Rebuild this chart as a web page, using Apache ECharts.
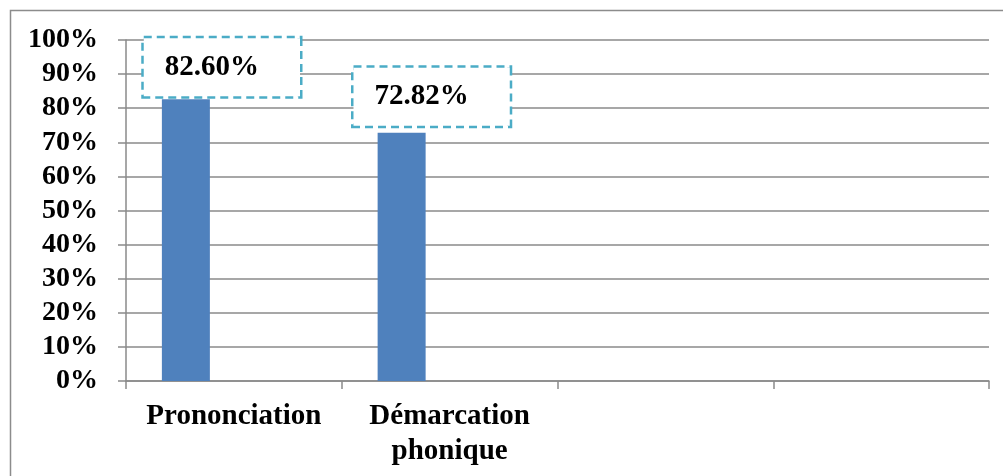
<!DOCTYPE html>
<html>
<head>
<meta charset="utf-8">
<script src="https://cdn.jsdelivr.net/npm/echarts@6/dist/echarts.min.js"></script>
<style>
html,body{margin:0;padding:0;background:#fff;}
#chart{width:1003px;height:476px;}
</style>
</head>
<body>
<div id="chart"></div>
<script>
const categories = ['Prononciation', 'Démarcation\nphonique', '', ''];
const values = [82.60, 72.82, null, null];
const yTicks = [0, 10, 20, 30, 40, 50, 60, 70, 80, 90, 100];

const FONT = '"Liberation Serif", "Times New Roman", serif';
const chart = echarts.init(document.getElementById('chart'));
const labelOffsets = [[36, -3], [30, -7]];
const LINE = '#8a8a8a';

chart.setOption({
  animation: false,
  backgroundColor: '#fff',
  graphic: [{
    type: 'rect',
    shape: {x: 10.5, y: 10.5, width: 1100, height: 600},
    style: {fill: 'none', stroke: '#8c8c8c', lineWidth: 1.5},
    silent: true
  }],
  grid: {left: 126, right: 14, top: 40, bottom: 95, containLabel: false},
  xAxis: {
    type: 'category',
    data: categories,
    boundaryGap: true,
    axisLine: {show: true, lineStyle: {color: LINE, width: 1.5}},
    axisTick: {show: true, alignWithLabel: false, length: 8, lineStyle: {color: LINE, width: 1.5}},
    axisLabel: {
      interval: 0, margin: 18,
      fontFamily: FONT, fontWeight: 'bold', fontSize: 29, lineHeight: 35, color: '#000'
    },
    splitLine: {show: false}
  },
  yAxis: {
    type: 'value',
    min: yTicks[0], max: yTicks[yTicks.length - 1], interval: yTicks[1] - yTicks[0],
    axisLine: {show: true, lineStyle: {color: LINE, width: 1.5}},
    axisTick: {show: true, length: 8, lineStyle: {color: LINE, width: 1.5}},
    axisLabel: {
      formatter: '{value}%', margin: 28,
      fontFamily: FONT, fontWeight: 'bold', fontSize: 28, color: '#000'
    },
    splitLine: {show: true, lineStyle: {color: LINE, width: 1.5}}
  },
  series: [
    {
      type: 'bar', barWidth: 48, barGap: '0%',
      itemStyle: {color: '#4F81BD'},
      data: values.map((v, i) => ({
        value: v,
        label: labelOffsets[i] ? {offset: labelOffsets[i]} : undefined
      })),
      label: {
        show: true, position: 'top', distance: 0,
        formatter: p => p.value.toFixed(2) + '%',
        fontFamily: FONT, fontWeight: 'bold', fontSize: 29, lineHeight: 28, color: '#000',
        padding: [15, 41, 15, 21],
        borderColor: '#4BACC6', borderWidth: 2.5, borderType: [8, 5],
        backgroundColor: '#fff'
      }
    },
    {type: 'bar', barWidth: 48, barGap: '0%', itemStyle: {color: '#C0504D'}, data: values.map(() => null)},
    {type: 'bar', barWidth: 48, barGap: '0%', itemStyle: {color: '#9BBB59'}, data: values.map(() => null)}
  ]
});
</script>
</body>
</html>
